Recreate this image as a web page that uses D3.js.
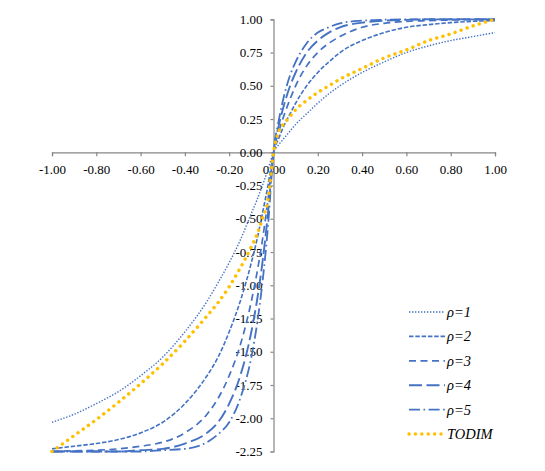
<!DOCTYPE html>
<html>
<head>
<meta charset="utf-8">
<script src="https://cdn.jsdelivr.net/npm/d3@7"></script>
<style>
  body { margin: 0; background: #fff; }
  .tick text { font-family: "Liberation Serif", "Times New Roman", serif; font-size: 13px; fill: #000; }
  .legend-text { font-family: "Liberation Serif", "Times New Roman", serif; font-size: 14.5px; font-style: italic; fill: #000; }
</style>
</head>
<body>
<div id="chart"></div>
<script>
// values
var xValues = [-1, -0.9, -0.8, -0.7, -0.6, -0.5, -0.4, -0.3, -0.25, -0.2, -0.15, -0.1, -0.075, -0.05, -0.025,
  0, 0.025, 0.05, 0.075, 0.1, 0.15, 0.2, 0.25, 0.3, 0.4, 0.5, 0.6, 0.7, 0.8, 0.9, 1];

var rho1 = [-2.03, -1.97, -1.89, -1.80, -1.68, -1.54, -1.35, -1.12, -0.98, -0.83, -0.66, -0.46, -0.36, -0.25, -0.13,
  0, 0.06, 0.11, 0.16, 0.21, 0.29, 0.37, 0.44, 0.50, 0.60, 0.68, 0.75, 0.80, 0.84, 0.87, 0.90];
var rho2 = [-2.23, -2.21, -2.19, -2.16, -2.11, -2.03, -1.89, -1.68, -1.54, -1.35, -1.12, -0.83, -0.66, -0.46, -0.25,
  0, 0.11, 0.21, 0.29, 0.37, 0.50, 0.60, 0.68, 0.75, 0.84, 0.90, 0.94, 0.96, 0.975, 0.985, 0.99];
var rho3 = [-2.25, -2.245, -2.24, -2.23, -2.21, -2.18, -2.11, -1.97, -1.85, -1.68, -1.45, -1.12, -0.91, -0.66, -0.36,
  0, 0.16, 0.29, 0.40, 0.50, 0.65, 0.75, 0.82, 0.87, 0.94, 0.97, 0.985, 0.99, 0.995, 0.998, 1.00];
var rho4 = [-2.25, -2.25, -2.25, -2.25, -2.24, -2.23, -2.19, -2.11, -2.03, -1.89, -1.68, -1.35, -1.12, -0.83, -0.46,
  0, 0.21, 0.37, 0.50, 0.60, 0.75, 0.84, 0.90, 0.94, 0.975, 0.99, 0.996, 1, 1, 1, 1];
var rho5 = [-2.25, -2.25, -2.25, -2.25, -2.25, -2.24, -2.23, -2.18, -2.12, -2.03, -1.85, -1.54, -1.30, -0.98, -0.56,
  0, 0.25, 0.44, 0.58, 0.68, 0.82, 0.90, 0.94, 0.97, 0.99, 0.997, 1, 1, 1, 1, 1];
var todim = [-2.25, -2.13, -2.01, -1.88, -1.74, -1.59, -1.42, -1.23, -1.13, -1.01, -0.87, -0.71, -0.62, -0.50, -0.36,
  0, 0.16, 0.22, 0.27, 0.32, 0.39, 0.45, 0.50, 0.55, 0.63, 0.71, 0.77, 0.84, 0.89, 0.95, 1.00];

var seriesNames = ["ρ=1", "ρ=2", "ρ=3", "ρ=4", "ρ=5", "TODIM"];
var xTicks = [-1, -0.8, -0.6, -0.4, -0.2, 0, 0.2, 0.4, 0.6, 0.8, 1];
var yTicks = [-2.25, -2, -1.75, -1.5, -1.25, -1, -0.75, -0.5, -0.25, 0, 0.25, 0.5, 0.75, 1];

var svgWidth = 545;
var svgHeight = 471;

var margin = {
  top: 19.3,
  right: 50,
  bottom: 19.5,
  left: 52
};

var width = svgWidth - margin.left - margin.right;
var height = svgHeight - margin.top - margin.bottom;

var svg = d3.select("#chart")
  .append("svg")
  .attr("width", svgWidth)
  .attr("height", svgHeight);

svg.append("rect")
  .attr("width", svgWidth)
  .attr("height", svgHeight)
  .attr("fill", "#fff");

var chartGroup = svg.append("g")
  .attr("transform", `translate(${margin.left}, ${margin.top})`);

var xLinearScale = d3.scaleLinear()
  .domain([-1, 1])
  .range([0, width]);

var yLinearScale = d3.scaleLinear()
  .domain([-2.25, 1])
  .range([height, 0]);

// axes cross at the origin
var bottomAxis = d3.axisBottom(xLinearScale)
  .tickValues(xTicks)
  .tickSize(4)
  .tickPadding(8)
  .tickFormat(d => d.toFixed(2));

var leftAxis = d3.axisLeft(yLinearScale)
  .tickValues(yTicks)
  .tickSize(3)
  .tickPadding(8)
  .tickFormat(d => d.toFixed(2));

var xAxis = chartGroup.append("g")
  .attr("transform", `translate(0, ${yLinearScale(0)})`)
  .call(bottomAxis);

var yAxis = chartGroup.append("g")
  .attr("transform", `translate(${xLinearScale(0)}, 0)`)
  .call(leftAxis);

[xAxis, yAxis].forEach(function(ax) {
  ax.select(".domain").attr("stroke", "#868686").attr("stroke-width", 1.2);
  ax.selectAll(".tick line").attr("stroke", "#868686").attr("stroke-width", 1.2);
  ax.attr("font-family", null).attr("font-size", null);
});

// line styles per series
var styles = [
  { color: "#4472C4", width: 1.4, dash: "1.4,1.6", cap: "butt" },
  { color: "#4472C4", width: 1.6, dash: "4.5,1.8", cap: "butt" },
  { color: "#4472C4", width: 1.7, dash: "7,4.5", cap: "butt" },
  { color: "#4472C4", width: 1.9, dash: "13,4.5", cap: "butt" },
  { color: "#4472C4", width: 1.8, dash: "11,3.5,1.6,3.5", cap: "butt" },
  { color: "#FFC000", width: 3.4, dash: "0.1,6.3", cap: "round" }
];

var allSeries = [rho1, rho2, rho3, rho4, rho5, todim];

var line = d3.line()
  .x((d, i) => xLinearScale(xValues[i]))
  .y(d => yLinearScale(d))
  .curve(d3.curveMonotoneX);

chartGroup.selectAll(".series")
  .data(allSeries)
  .enter()
  .append("path")
  .attr("class", "series")
  .attr("d", d => line(d))
  .attr("fill", "none")
  .attr("stroke", (d, i) => styles[i].color)
  .attr("stroke-width", (d, i) => styles[i].width)
  .attr("stroke-dasharray", (d, i) => styles[i].dash)
  .attr("stroke-linecap", (d, i) => styles[i].cap);

// legend
var legend = svg.append("g")
  .attr("transform", "translate(409, 312)");

var legendRows = legend.selectAll(".legend-row")
  .data(seriesNames)
  .enter()
  .append("g")
  .attr("class", "legend-row")
  .attr("transform", (d, i) => `translate(0, ${i * 24.4})`);

legendRows.append("line")
  .attr("x1", 0)
  .attr("x2", 36)
  .attr("y1", 0)
  .attr("y2", 0)
  .attr("stroke", (d, i) => styles[i].color)
  .attr("stroke-width", (d, i) => styles[i].width)
  .attr("stroke-dasharray", (d, i) => styles[i].dash)
  .attr("stroke-linecap", (d, i) => styles[i].cap);

legendRows.append("text")
  .attr("class", "legend-text")
  .attr("x", 38)
  .attr("y", 5)
  .text(d => d);
</script>
</body>
</html>
